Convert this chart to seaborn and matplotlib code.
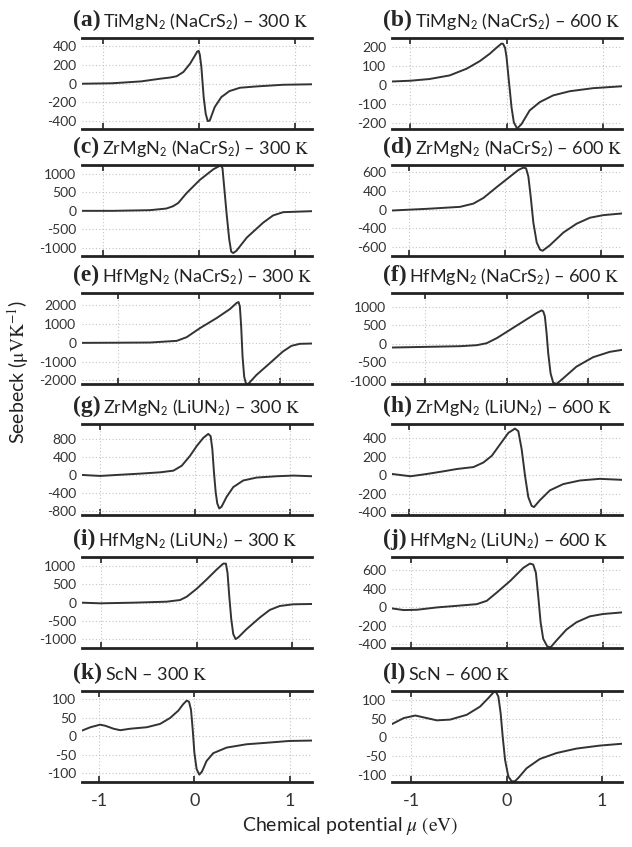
import numpy as np
import pandas as pd
import matplotlib
matplotlib.use("Agg")
import matplotlib.pyplot as plt
import seaborn as sns

mu_a = [-1.22, -0.9, -0.6, -0.4, -0.3, -0.23, -0.16, -0.09, -0.04, -0.015, 0.0, 0.012, 0.028, 0.052, 0.073, 0.094, 0.115, 0.167, 0.236, 0.32, 0.43, 0.6, 0.88, 1.18]
s_a = [0, 5, 25, 54, 66, 80, 125, 214, 300, 345, 352, 310, 179, -143, -321, -400, -395, -250, -143, -79, -43, -29, -11, -6]

mu_b = [-1.19, -1.0, -0.8, -0.59, -0.415, -0.277, -0.173, -0.104, -0.052, -0.035, -0.015, 0.0, 0.024, 0.052, 0.076, 0.11, 0.156, 0.24, 0.346, 0.484, 0.657, 0.9, 1.2]
s_b = [19, 23, 32, 51, 86, 126, 165, 196, 218, 216, 195, 147, 25, -116, -195, -228, -204, -133, -89, -54, -32, -16, -6]

mu_c = [-1.22, -0.9, -0.51, -0.34, -0.27, -0.215, -0.128, 0.01, 0.15, 0.219, 0.235, 0.246, 0.26, 0.288, 0.316, 0.337, 0.358, 0.392, 0.5, 0.67, 0.774, 0.88, 1.18]
s_c = [0, 0, 18, 62, 124, 213, 480, 835, 1120, 1215, 1205, 1147, 747, -53, -764, -1102, -1138, -1076, -720, -320, -124, -36, -9]

mu_d = [-1.18, -0.816, -0.47, -0.33, -0.226, -0.087, 0.052, 0.139, 0.19, 0.219, 0.243, 0.267, 0.295, 0.33, 0.365, 0.392, 0.469, 0.608, 0.747, 0.885, 1.024, 1.22]
s_d = [-16, 11, 43, 96, 187, 363, 533, 640, 677, 667, 533, 213, -213, -533, -650, -667, -576, -373, -229, -133, -91, -64]

mu_e = [-1.437, -1.0, -0.6, -0.273, -0.151, 0.012, 0.216, 0.38, 0.461, 0.486, 0.502, 0.518, 0.535, 0.555, 0.576, 0.604, 0.706, 0.869, 1.03, 1.135, 1.237, 1.388]
s_e = [-18, -10, 0, 88, 282, 758, 1286, 1762, 2079, 2132, 1903, 846, -740, -1797, -2150, -2185, -1709, -1092, -476, -176, -70, -53]

mu_f = [-1.408, -0.98, -0.571, -0.367, -0.245, -0.122, 0.041, 0.204, 0.367, 0.429, 0.449, 0.469, 0.49, 0.51, 0.539, 0.571, 0.612, 0.694, 0.857, 1.061, 1.265, 1.416]
s_f = [-99, -81, -63, -36, 18, 153, 378, 604, 829, 901, 874, 739, 288, -252, -793, -1045, -1081, -928, -613, -360, -216, -162]

mu_g = [-1.193, -1.0, -0.825, -0.579, -0.368, -0.228, -0.14, -0.053, 0.018, 0.088, 0.14, 0.165, 0.183, 0.2, 0.218, 0.235, 0.256, 0.28, 0.333, 0.404, 0.509, 0.65, 0.86, 1.04, 1.235]
s_g = [7, -15, 7, 36, 65, 102, 211, 429, 647, 829, 916, 865, 575, 65, -371, -625, -735, -698, -480, -262, -116, -51, -22, -7, -22]

mu_h = [-1.183, -0.99, -0.817, -0.643, -0.504, -0.33, -0.226, -0.139, -0.052, 0.035, 0.104, 0.139, 0.174, 0.209, 0.243, 0.278, 0.303, 0.365, 0.47, 0.609, 0.783, 0.991, 1.224]
s_h = [14, -11, 14, 43, 68, 89, 139, 211, 336, 461, 507, 479, 282, -4, -236, -332, -346, -271, -164, -96, -57, -39, -50]

mu_i = [-1.2, -1.009, -0.66, -0.313, -0.174, -0.104, 0.0, 0.104, 0.209, 0.278, 0.306, 0.323, 0.341, 0.362, 0.383, 0.407, 0.435, 0.522, 0.661, 0.765, 0.87, 1.009, 1.207]
s_i = [0, -18, 0, 27, 72, 162, 378, 631, 901, 1063, 1063, 811, 180, -450, -856, -991, -946, -721, -405, -198, -90, -45, -36]

mu_j = [-1.196, -1.075, -0.936, -0.728, -0.52, -0.312, -0.208, -0.104, 0.035, 0.173, 0.243, 0.277, 0.305, 0.329, 0.354, 0.381, 0.423, 0.458, 0.52, 0.624, 0.728, 0.867, 1.005, 1.203]
s_j = [-21, -48, -43, -5, 21, 48, 102, 236, 423, 637, 707, 691, 557, 182, -246, -514, -637, -654, -541, -364, -246, -150, -112, -86]

mu_k = [-1.18, -1.092, -0.99, -0.935, -0.848, -0.778, -0.674, -0.5, -0.36, -0.255, -0.168, -0.115, -0.08, -0.056, -0.035, -0.017, 0.0, 0.024, 0.052, 0.08, 0.129, 0.199, 0.339, 0.548, 0.757, 1.0, 1.236]
s_k = [15, 24, 31, 28, 20, 16, 20, 24, 33, 49, 69, 87, 96, 93, 71, 18, -44, -89, -104, -96, -67, -46, -31, -22, -18, -13, -12]

mu_l = [-1.202, -1.08, -0.958, -0.871, -0.732, -0.592, -0.418, -0.279, -0.192, -0.139, -0.115, -0.087, -0.063, -0.042, -0.017, 0.017, 0.052, 0.087, 0.122, 0.209, 0.348, 0.523, 0.732, 0.976, 1.209]
s_l = [36, 52, 59, 54, 46, 48, 61, 83, 106, 121, 124, 110, 65, 3, -60, -105, -118, -118, -109, -83, -58, -42, -30, -22, -17]

letters = ["(a)", "(b)", "(c)", "(d)", "(e)", "(f)", "(g)", "(h)", "(i)", "(j)", "(k)", "(l)"]
titles = [
    r"TiMgN$_\mathsf{2}$ (NaCrS$_\mathsf{2}$) – 300 $\mathrm{K}$",
    r"TiMgN$_\mathsf{2}$ (NaCrS$_\mathsf{2}$) – 600 $\mathrm{K}$",
    r"ZrMgN$_\mathsf{2}$ (NaCrS$_\mathsf{2}$) – 300 $\mathrm{K}$",
    r"ZrMgN$_\mathsf{2}$ (NaCrS$_\mathsf{2}$) – 600 $\mathrm{K}$",
    r"HfMgN$_\mathsf{2}$ (NaCrS$_\mathsf{2}$) – 300 $\mathrm{K}$",
    r"HfMgN$_\mathsf{2}$ (NaCrS$_\mathsf{2}$) – 600 $\mathrm{K}$",
    r"ZrMgN$_\mathsf{2}$ (LiUN$_\mathsf{2}$) – 300 $\mathrm{K}$",
    r"ZrMgN$_\mathsf{2}$ (LiUN$_\mathsf{2}$) – 600 $\mathrm{K}$",
    r"HfMgN$_\mathsf{2}$ (LiUN$_\mathsf{2}$) – 300 $\mathrm{K}$",
    r"HfMgN$_\mathsf{2}$ (LiUN$_\mathsf{2}$) – 600 $\mathrm{K}$",
    r"ScN – 300 $\mathrm{K}$",
    r"ScN – 600 $\mathrm{K}$",
]
ytick_pos = [
    [400, 200, 0, -200, -400], [200, 100, 0, -100, -200],
    [1000, 500, 0, -500, -1000], [600, 300, 0, -300, -600],
    [2000, 1000, 0, -1000, -2000], [1000, 500, 0, -500, -1000],
    [800, 400, 0, -400, -800], [400, 200, 0, -200, -400],
    [1000, 500, 0, -500, -1000], [600, 300, 0, -300, -600],
    [100, 50, 0, -50, -100], [100, 50, 0, -50, -100],
]
ytick_text = [
    ["400", "200", "0", "-200", "-400"], ["200", "100", "0", "-100", "-200"],
    ["1000", "500", "0", "-500", "-1000"], ["600", "400", "0", "-400", "-600"],
    ["2000", "1000", "0", "-1000", "-2000"], ["1000", "500", "0", "-500", "-1000"],
    ["800", "400", "0", "-400", "-800"], ["400", "200", "0", "-200", "-400"],
    ["1000", "500", "0", "-500", "-1000"], ["600", "400", "0", "-200", "-400"],
    ["100", "50", "0", "-50", "-100"], ["100", "50", "0", "-50", "-100"],
]
ylims = [(-485, 490), (-230, 247), (-1218, 1236), (-752, 720), (-2185, 2608), (-1081, 1369),
         (-880, 1135), (-432, 557), (-1234, 1243), (-664, 814), (-124, 122), (-120, 125)]
xlims = [(-1.215, 1.18), (-1.19, 1.2), (-1.22, 1.18), (-1.18, 1.22), (-1.437, 1.388), (-1.408, 1.416),
         (-1.193, 1.235), (-1.183, 1.224), (-1.2, 1.207), (-1.196, 1.203), (-1.18, 1.236), (-1.202, 1.209)]

curves = [(mu_a, s_a), (mu_b, s_b), (mu_c, s_c), (mu_d, s_d), (mu_e, s_e), (mu_f, s_f),
          (mu_g, s_g), (mu_h, s_h), (mu_i, s_i), (mu_j, s_j), (mu_k, s_k), (mu_l, s_l)]

sns.set_style("white")
plt.rcParams["font.family"] = ["Lato", "DejaVu Sans"]
plt.rcParams["mathtext.fontset"] = "stix"

W, H = 632, 847
fig = plt.figure(figsize=(W / 100, H / 100), dpi=100)

col_left = [82, 392]
row_top = [38, 165, 293, 424, 557, 691]
ax_w, ax_h = 230, 91

for i, (mu, s) in enumerate(curves):
    row, col = i // 2, i % 2
    ax = fig.add_axes([col_left[col] / W, 1 - (row_top[row] + ax_h) / H, ax_w / W, ax_h / H])
    df = pd.DataFrame({"mu": mu, "S": s})
    sns.lineplot(data=df, x="mu", y="S", ax=ax, color="#333333", linewidth=1.4,
                 sort=False, estimator=None)
    ax.set_xlim(*xlims[i])
    ax.set_ylim(*ylims[i])
    ax.set_xticks([-1, 0, 1])
    ax.set_xticklabels(["-1", "0", "1"])
    ax.set_yticks(ytick_pos[i])
    ax.set_yticklabels(ytick_text[i])
    ax.set_xlabel("")
    ax.set_ylabel("")
    ax.set_axisbelow(True)
    ax.grid(True, color="#c4c4c4", linestyle=(0, (1, 2)), linewidth=0.8)
    for side in ["left", "right"]:
        ax.spines[side].set_visible(False)
    for side in ["top", "bottom"]:
        ax.spines[side].set_linewidth(2)
        ax.spines[side].set_color("#222222")
    ax.tick_params(axis="x", direction="in", top=True, bottom=True, length=4, width=1.2,
                   color="#222222", labelbottom=(row == 5), labelsize=13, pad=8, labelcolor="#333333")
    ax.tick_params(axis="y", length=0, pad=4, labelsize=10, labelcolor="#333333")

    lab = ax.text(-9 / ax_w, 1 + 12 / ax_h, letters[i], transform=ax.transAxes,
                  family="Liberation Serif", weight="bold", fontsize=17, ha="left", va="baseline")
    ax.annotate(titles[i], xy=(1, 0), xycoords=lab, xytext=(2, 3.2), textcoords="offset points",
                fontsize=13, ha="left", va="baseline", color="#222222")

fig.text(18 / W, 1 - 372 / H, r"Seebeck ($\mathrm{\mu VK}^{-1}$)", rotation=90,
         ha="center", va="center", fontsize=14, color="#222222")
fig.text(350 / W, 1 - 826 / H, r"Chemical potential $\mu\ (\mathrm{eV})$",
         ha="center", va="center", fontsize=14, color="#222222")

fig.savefig("out.png", dpi=100)
